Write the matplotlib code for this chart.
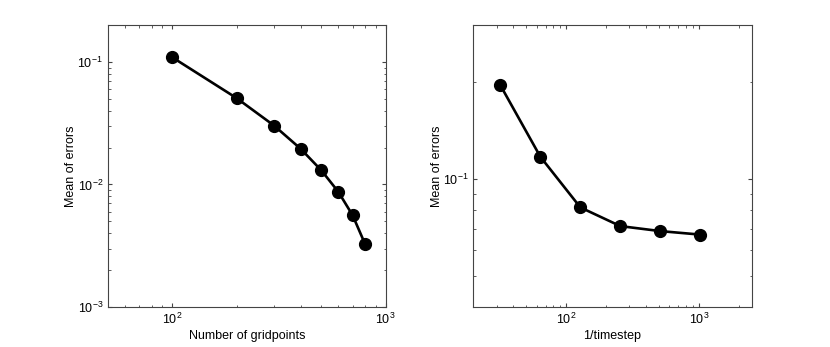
import matplotlib
matplotlib.use('Agg')
import matplotlib.pyplot as plt

plt.rcParams['font.family'] = ['Liberation Sans', 'DejaVu Sans']
plt.rcParams['mathtext.fontset'] = 'custom'
plt.rcParams['mathtext.rm'] = 'Liberation Sans'
plt.rcParams['mathtext.it'] = 'Liberation Sans:italic'
plt.rcParams['font.size'] = 9

# left panel: error vs grid size
gridpoints = [100, 200, 300, 400, 500, 600, 700, 800]
err_grid = [0.109, 0.0507, 0.0302, 0.0195, 0.0130, 0.0087, 0.0056, 0.00327]

# right panel: error vs time step
inv_dt = [32, 64, 128, 256, 512, 1024]
err_dt = [0.195, 0.117, 0.0815, 0.0713, 0.0688, 0.0671]

fig = plt.figure(figsize=(8.3, 3.47), dpi=100)
W, H = 830.0, 347.0
ax1 = fig.add_axes([108 / W, 1 - 307 / H, (385.7 - 108) / W, 282 / H])
ax2 = fig.add_axes([473.3 / W, 1 - 307 / H, (751.7 - 473.3) / W, 282 / H])

axcol = '#444444'
for ax, x, y in [(ax1, gridpoints, err_grid), (ax2, inv_dt, err_dt)]:
    ax.loglog(x, y, '-o', color='k', lw=1.9, ms=8.5)
    ax.tick_params(which='both', direction='in', top=True, right=True,
                   color=axcol, labelsize=9)
    ax.tick_params(which='major', length=3)
    ax.tick_params(which='minor', length=1.8)
    for s in ax.spines.values():
        s.set_color(axcol)
        s.set_linewidth(0.8)
    ax.set_ylabel('Mean of errors', fontsize=9, labelpad=0)

ax1.set_xlim(50, 1000)
ax1.set_ylim(1e-3, 0.2)
ax1.set_xlabel('Number of gridpoints', fontsize=9, labelpad=2)

ax2.set_xlim(20, 2500)
ax2.set_ylim(0.04, 0.3)
ax2.set_xlabel('1/timestep', fontsize=9, labelpad=2)
ax2.yaxis.set_minor_formatter(matplotlib.ticker.NullFormatter())

plt.savefig('out.png', dpi=100)
